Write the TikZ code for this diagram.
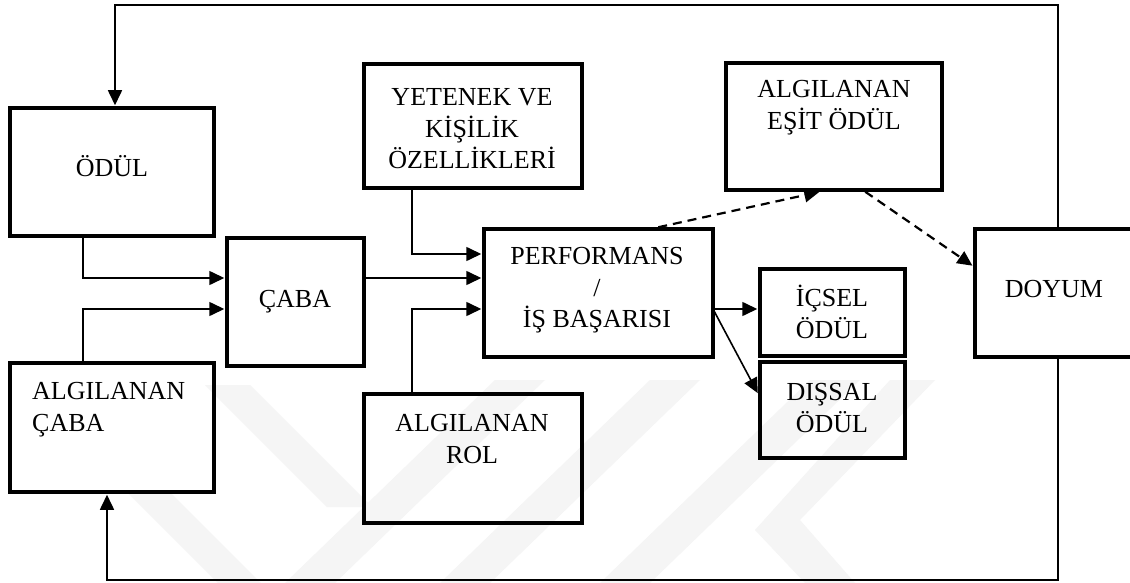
\documentclass[tikz,border=0pt]{standalone}
\usepackage{fontspec}
\setmainfont{Liberation Serif}
\usetikzlibrary{arrows.meta,calc}

\tikzset{
  box/.style={draw, line width=3.5pt, inner sep=0pt},
  txt/.style={font=\fontsize{26}{31.5}\selectfont, align=center, inner sep=0pt},
  arr/.style={line width=1.6pt, -{Triangle[length=15pt,width=14pt]}, shorten >=1pt},
  darr/.style={arr, dash pattern=on 9pt off 6pt, line width=2.2pt},
  wmark/.style={fill=black!4, draw=none}
}

\begin{document}
\begin{tikzpicture}[x=1pt, y=-1pt]
\useasboundingbox (0,0) rectangle (1130,583);
\fill[white] (0,0) rectangle (1130,583);

% faint background emblem
\fill[wmark] (125,490) -- (168,490) -- (261,583) -- (218,583) -- cycle;
\fill[wmark] (205,385) -- (250,385) -- (372,507) -- (327,507) -- cycle;
\fill[wmark] (285,583) -- (335,583) -- (545,380) -- (495,380) -- cycle;
\fill[wmark] (440,583) -- (490,583) -- (700,380) -- (650,380) -- cycle;
\fill[wmark] (600,583) -- (650,583) -- (860,380) -- (810,380) -- cycle;
\fill[wmark] (890,380) -- (935,380) -- (800,520) -- (855,583) -- (805,583) -- (755,530) -- cycle;

% boxes
\node[box, minimum width=204pt, minimum height=128pt] (odul)    at (112,172)     {};
\node[box, minimum width=137pt, minimum height=128pt] (caba)    at (295.5,302)   {};
\node[box, minimum width=204pt, minimum height=129pt] (acaba)   at (112,427.5)   {};
\node[box, minimum width=218pt, minimum height=124pt] (yetenek) at (473,126)     {};
\node[box, minimum width=229pt, minimum height=128pt] (perf)    at (598.5,293)   {};
\node[box, minimum width=218pt, minimum height=129pt] (rol)     at (473,458.5)   {};
\node[box, minimum width=216pt, minimum height=127pt] (esit)    at (834,126.5)   {};
\node[box, minimum width=145pt, minimum height=87pt]  (icsel)   at (832.5,312.5) {};
\node[box, minimum width=145pt, minimum height=96pt]  (dissal)  at (832.5,410)   {};
\node[box, minimum width=185pt, minimum height=128pt] (doyum)   at (1067.5,293)  {};

% labels
\node[txt] (odul-t)    at (112,170)  {\strut ÖDÜL};
\node[txt] (caba-t)    at (295,301)  {\strut ÇABA};
\node[txt, align=left, anchor=west] (acaba-t) at (32,409) {\strut ALGILANAN\\\strut ÇABA};
\node[txt] (yetenek-t) at (472,131)  {\strut YETENEK VE\\\strut KİŞİLİK\\\strut ÖZELLİKLERİ};
\node[txt] (perf-t)    at (597,290)  {\strut PERFORMANS\\\strut /\\\strut İŞ BAŞARISI};
\node[txt] (rol-t)     at (472,441)  {\strut ALGILANAN\\\strut ROL};
\node[txt] (esit-t)    at (834,107)  {\strut ALGILANAN\\\strut EŞİT ÖDÜL};
\node[txt] (icsel-t)   at (832,316)  {\strut İÇSEL\\\strut ÖDÜL};
\node[txt] (dissal-t)  at (832,410)  {\strut DIŞSAL\\\strut ÖDÜL};
\node[txt] (doyum-t)   at (1054,291) {\strut DOYUM};

% bends of the connectors
\coordinate (loopT) at (1058,5);
\coordinate (loopB) at (1058,580);
\coordinate (c1) at (83,278);
\coordinate (c2) at (83,309);
\coordinate (c3) at (412,254);
\coordinate (c4) at (412,309);
\coordinate (c5) at (713,309);
\coordinate (oduIn) at (115,0);
\coordinate (acaIn) at (107,0);

% feedback loops
\draw[arr] (doyum.north -| loopT) -- (loopT) -| (odul.north -| oduIn);
\draw[arr] (doyum.south -| loopB) -- (loopB) -| (acaba.south -| acaIn);

% into effort
\draw[arr] (odul.south -| c1) -- (c1) -- (caba.west |- c1);
\draw[arr] (acaba.north -| c2) -- (c2) -- (caba.west |- c2);

% into performance
\draw[arr] (caba.east |- c1) -- (perf.west |- c1);
\draw[arr] (yetenek.south -| c3) -- (c3) -- (perf.west |- c3);
\draw[arr] (rol.north -| c4) -- (c4) -- (perf.west |- c4);

% rewards
\draw[arr] (c5) -- (icsel.west |- c5);
\draw[arr] (c5) -- ($(dissal.west)+(0,-16)$);

% equity and satisfaction
\draw[darr] ($(perf.north west)+(176,0)$) -- ($(esit.south west)+(96,0)$);
\draw[darr] ($(esit.south west)+(141,0)$) -- ($(doyum.north west)+(0,39)$);
\end{tikzpicture}
\end{document}
